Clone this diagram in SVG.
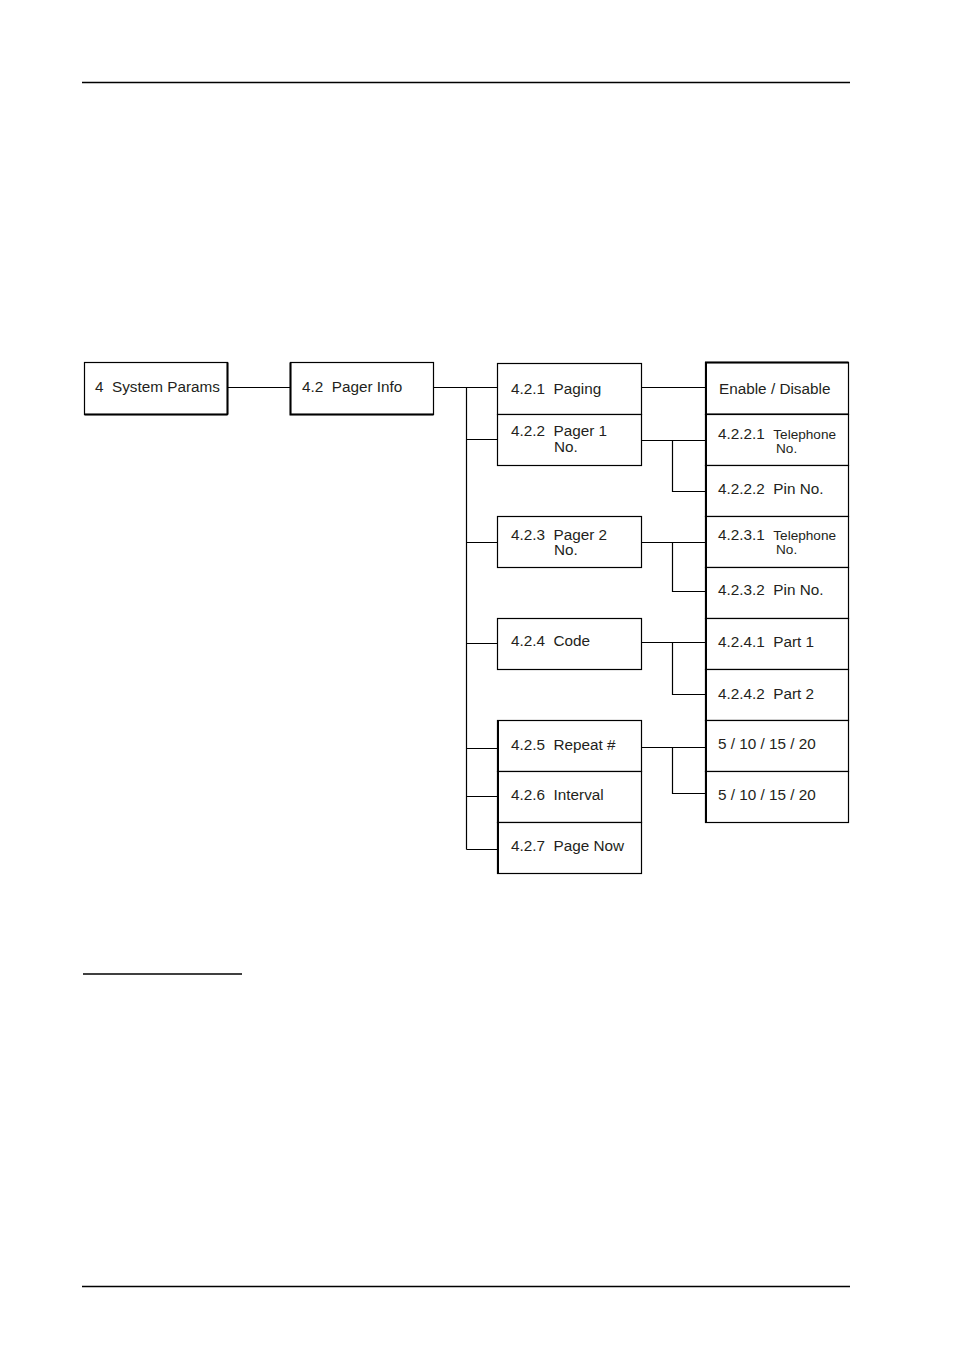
<svg xmlns="http://www.w3.org/2000/svg" width="954" height="1369" viewBox="0 0 954 1369">
<style>
.box{fill:#fff;stroke:#000;stroke-width:1.2}
.thk{fill:none;stroke:#000;stroke-width:2}
.ln{fill:none;stroke:#000;stroke-width:1.2}
.rule{stroke:#000;stroke-width:1.4}
text{font-family:"Liberation Sans",Arial,sans-serif;font-size:15.3px;fill:#231f20;white-space:pre}
.sm{font-size:13.6px}
</style>
<rect width="954" height="1369" fill="#fff"/>
<line class="rule" x1="82" y1="82.5" x2="850" y2="82.5"/>
<line class="rule" x1="82" y1="1286.5" x2="850" y2="1286.5"/>
<line class="rule" x1="83" y1="974" x2="242" y2="974"/>

<g id="connectors">
<path class="ln" d="M227.5 387.5H290.5"/>
<path class="ln" d="M433.5 387.5H497.5"/>
<path class="ln" d="M466.5 387.5V849.5"/>
<path class="ln" d="M466.5 439.5H497.5M466.5 542.5H497.5M466.5 643.5H497.5M466.5 748.5H497.5M466.5 796.5H497.5M466.5 849.5H497.5"/>
<path class="ln" d="M641.5 387.5H705.5"/>
<path class="ln" d="M641.5 440.5H705.5M672.5 440.5V491.5H705.5"/>
<path class="ln" d="M641.5 542.5H705.5M672.5 542.5V591.5H705.5"/>
<path class="ln" d="M641.5 642.5H705.5M672.5 642.5V694.5H705.5"/>
<path class="ln" d="M641.5 747.5H705.5M672.5 747.5V793.5H705.5"/>
</g>

<g id="n4">
<rect class="box" x="84.5" y="362.5" width="143" height="52"/>
<path class="thk" d="M84.5 414.5H227.5M227.5 362.5V414.5"/>
<text x="95" y="392" xml:space="preserve">4  System Params</text>
</g>
<g id="n42">
<rect class="box" x="290.5" y="362.5" width="143" height="52"/>
<path class="thk" d="M290.5 362.5V414.5H433.5"/>
<text x="302" y="392" xml:space="preserve">4.2  Pager Info</text>
</g>

<g id="n421">
<rect class="box" x="497.5" y="363.5" width="144" height="51"/>
<text x="511" y="394" xml:space="preserve">4.2.1  Paging</text>
</g>
<g id="n422">
<rect class="box" x="497.5" y="414.5" width="144" height="51"/>
<text x="511" y="436" xml:space="preserve">4.2.2  Pager 1</text>
<text x="554" y="452">No.</text>
</g>
<g id="n423">
<rect class="box" x="497.5" y="516.5" width="144" height="51"/>
<text x="511" y="540" xml:space="preserve">4.2.3  Pager 2</text>
<text x="554" y="555">No.</text>
</g>
<g id="n424">
<rect class="box" x="497.5" y="618.5" width="144" height="51"/>
<text x="511" y="646" xml:space="preserve">4.2.4  Code</text>
</g>
<g id="n425">
<rect class="box" x="497.5" y="720.5" width="144" height="51"/>
<text x="511" y="750" xml:space="preserve">4.2.5  Repeat #</text>
</g>
<g id="n426">
<rect class="box" x="497.5" y="771.5" width="144" height="51"/>
<text x="511" y="800" xml:space="preserve">4.2.6  Interval</text>
</g>
<g id="n427">
<rect class="box" x="497.5" y="822.5" width="144" height="51"/>
<text x="511" y="851" xml:space="preserve">4.2.7  Page Now</text>
</g>
<path class="thk" d="M498 720.5V873.5"/>

<g id="enable">
<rect class="box" x="705.5" y="362.5" width="143" height="52"/>
<path class="thk" d="M705 362.5H848.5M705 414.5H848.5"/>
<text x="719" y="394">Enable / Disable</text>
</g>
<g id="n4221">
<rect class="box" x="705.5" y="414.5" width="143" height="51"/>
<text x="718" y="439" xml:space="preserve">4.2.2.1  <tspan class="sm">Telephone</tspan></text>
<text class="sm" x="776" y="453">No.</text>
</g>
<g id="n4222">
<rect class="box" x="705.5" y="465.5" width="143" height="51"/>
<text x="718" y="494" xml:space="preserve">4.2.2.2  Pin No.</text>
</g>
<g id="n4231">
<rect class="box" x="705.5" y="516.5" width="143" height="51"/>
<text x="718" y="540" xml:space="preserve">4.2.3.1  <tspan class="sm">Telephone</tspan></text>
<text class="sm" x="776" y="554">No.</text>
</g>
<g id="n4232">
<rect class="box" x="705.5" y="567.5" width="143" height="51"/>
<text x="718" y="595" xml:space="preserve">4.2.3.2  Pin No.</text>
</g>
<g id="n4241">
<rect class="box" x="705.5" y="618.5" width="143" height="51"/>
<text x="718" y="647" xml:space="preserve">4.2.4.1  Part 1</text>
</g>
<g id="n4242">
<rect class="box" x="705.5" y="669.5" width="143" height="51"/>
<text x="718" y="699" xml:space="preserve">4.2.4.2  Part 2</text>
</g>
<g id="rep">
<rect class="box" x="705.5" y="720.5" width="143" height="51"/>
<text x="718" y="749">5 / 10 / 15 / 20</text>
</g>
<g id="intv">
<rect class="box" x="705.5" y="771.5" width="143" height="51"/>
<text x="718" y="800">5 / 10 / 15 / 20</text>
</g>
<path class="thk" d="M706 362.5V822.5"/>
</svg>
